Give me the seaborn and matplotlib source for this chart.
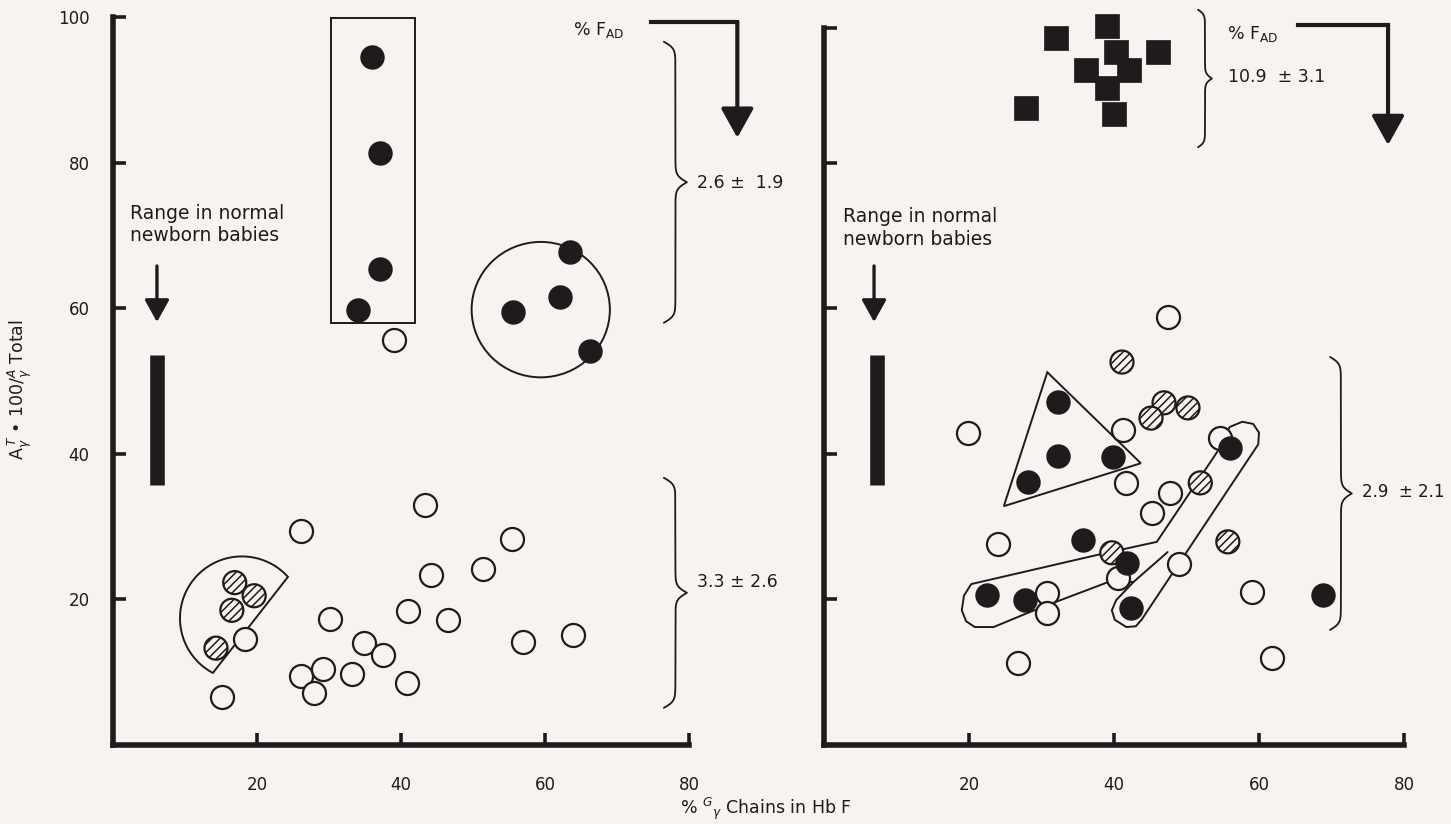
import numpy as np
import pandas as pd
import matplotlib
matplotlib.use("Agg")
import matplotlib.pyplot as plt
from matplotlib.patches import Rectangle, Ellipse, Polygon
import seaborn as sns

INK = "#1f1b1c"
PAPER = "#f7f3f1"

# ---------------- data: left panel ----------------
left_open_x = [39.0, 43.3, 26.1, 55.4, 44.2, 51.4, 30.1, 41.0, 46.5, 34.9,
               37.5, 26.1, 29.2, 27.9, 33.2, 40.8, 56.9, 63.9, 18.3, 15.1]
left_open_y = [55.6, 33.0, 29.4, 28.3, 23.4, 24.2, 17.3, 18.4, 17.2, 14.0,
               12.4, 9.5, 10.4, 7.1, 9.8, 8.5, 14.1, 15.1, 14.6, 6.6]
left_filled_x = [36.0, 37.1, 37.1, 34.0, 63.5, 62.1, 55.6, 66.3]
left_filled_y = [94.5, 81.3, 65.4, 59.8, 67.7, 61.5, 59.5, 54.1]
left_hatched_x = [16.9, 19.6, 16.5, 14.3]
left_hatched_y = [22.3, 20.5, 18.5, 13.3]

# ---------------- data: right panel ----------------
right_open_x = [47.4, 19.9, 41.2, 41.7, 54.6, 47.7, 45.2, 24.0, 49.0, 40.6,
                30.8, 30.8, 59.0, 26.8, 61.8]
right_open_y = [58.8, 42.9, 43.3, 36.0, 42.2, 34.6, 31.9, 27.6, 24.9, 22.9,
                20.9, 18.1, 21.0, 11.3, 12.0]
right_filled_x = [32.3, 32.3, 39.9, 28.1, 56.0, 35.7, 41.8, 22.5, 27.7, 42.3, 68.8]
right_filled_y = [47.1, 39.7, 39.6, 36.1, 40.8, 28.2, 25.0, 20.6, 19.9, 18.8, 20.6]
right_hatched_x = [41.1, 46.9, 45.1, 50.2, 51.9, 39.7, 55.7]
right_hatched_y = [52.6, 47.0, 44.9, 46.3, 36.0, 26.4, 27.9]
right_square_x = [39.0, 32.0, 40.3, 46.1, 36.1, 42.1, 39.0, 27.9, 40.0]
right_square_y = [98.8, 97.1, 95.2, 95.2, 92.7, 92.7, 90.2, 87.5, 86.7]

# range of the ratio in normal newborn babies
normal_range = [35.7, 53.6]

x_ticks = [20, 40, 60, 80]
y_ticks = [20, 40, 60, 80, 100]

fad_left_high = "2.6 \u00b1  1.9"
fad_left_low = "3.3 \u00b1 2.6"
fad_right_high = "10.9  \u00b1 3.1"
fad_right_low = "2.9  \u00b1 2.1"
range_label = "Range in normal\nnewborn babies"
fad_label = "% F$_{\\mathregular{AD}}$"

# ---------------- style ----------------
sns.set_theme(style="white")
plt.rcParams["font.family"] = ["DejaVu Sans"]
plt.rcParams["hatch.color"] = INK
plt.rcParams["hatch.linewidth"] = 1.1
plt.rcParams["text.color"] = INK

fig = plt.figure(figsize=(14.51, 8.24), dpi=100, facecolor=PAPER)
ax_l = fig.add_axes([0.0779, 0.0959, 0.397, 0.8835])
ax_r = fig.add_axes([0.5679, 0.0959, 0.3997, 0.8835])

MS = 275


def draw_points(ax, xs, ys, kind):
    df = pd.DataFrame({"x": xs, "y": ys})
    kws = dict(data=df, x="x", y="y", ax=ax, legend=False, clip_on=False, zorder=4)
    if kind == "open":
        sns.scatterplot(**kws, marker="o", s=MS, color=PAPER, edgecolor=INK, linewidth=1.6)
    elif kind == "filled":
        sns.scatterplot(**kws, marker="o", s=MS, color=INK, edgecolor=INK, linewidth=1.0)
    elif kind == "hatched":
        sns.scatterplot(**kws, marker="o", s=MS, color=PAPER, edgecolor=INK,
                        linewidth=1.6, hatch="////")
    elif kind == "square":
        sns.scatterplot(**kws, marker="s", s=MS, color=INK, edgecolor=INK, linewidth=0.5)


def style_axes(ax, ytop, show_ylabels):
    ax.set_facecolor("none")
    ax.set_xlim(0, 80)
    ax.set_ylim(0, 100)
    for side in ("top", "right"):
        ax.spines[side].set_visible(False)
    for side in ("left", "bottom"):
        sp = ax.spines[side]
        sp.set_linewidth(4.0)
        sp.set_color(INK)
        sp.set_capstyle("projecting")
    ax.spines["left"].set_bounds(0, ytop)
    ax.spines["bottom"].set_bounds(0, 80)
    ax.set_xticks(x_ticks)
    ax.set_xticklabels([str(t) for t in x_ticks])
    if show_ylabels:
        ax.set_yticks(y_ticks)
        ax.set_yticklabels([str(t) for t in y_ticks])
    else:
        ax.set_yticks([20, 40, 60, 80, ytop])
        ax.set_yticklabels([])
    ax.tick_params(axis="both", direction="in", length=9, width=2.6, color=INK,
                   labelcolor=INK, labelsize=12, bottom=True, left=True)
    ax.tick_params(axis="x", pad=22)
    ax.tick_params(axis="y", pad=17)
    ax.set_xlabel("")
    ax.set_ylabel("")


def brace(ax, x, y0, y1, w, beta=2.2):
    # vertical curly brace from y0 to y1, tip pointing right
    h = (y1 - y0) / 2.0
    t = np.linspace(0, h, 300)
    a = 1 / (1 + np.exp(-beta * (t - t[0]))) + 1 / (1 + np.exp(-beta * (t - t[-1])))
    a = a - 0.5
    xs = np.concatenate([x + w * a, x + w * a[::-1]])
    ys = np.concatenate([y0 + t, y0 + h + t])
    ax.plot(xs, ys, color=INK, lw=1.3, clip_on=False, zorder=3)


def elbow_arrow(ax, x0, x1, y0, y1):
    ax.plot([x0, x1], [y0, y0], color=INK, lw=3.0, clip_on=False,
            solid_capstyle="projecting")
    ax.annotate("", xy=(x1, y1), xytext=(x1, y0), annotation_clip=False,
                arrowprops=dict(arrowstyle="-|>,head_length=0.9,head_width=0.5",
                                lw=3.0, color=INK, shrinkA=0, shrinkB=0,
                                mutation_scale=20))


def normal_range_marker(ax, x_arrow, x_bar, text_x, text_y):
    ax.text(text_x, text_y, range_label, fontsize=13.5, ha="left", va="center",
            linespacing=1.25, color=INK)
    ax.annotate("", xy=(x_arrow, 58.1), xytext=(x_arrow, 65.8), annotation_clip=False,
                arrowprops=dict(arrowstyle="-|>,head_length=0.9,head_width=0.5",
                                lw=2.4, color=INK, shrinkA=0, shrinkB=0,
                                mutation_scale=15))
    ax.plot([x_bar, x_bar], normal_range, color=INK, lw=10.5,
            solid_capstyle="butt", zorder=3)


# ---------------- left panel ----------------
style_axes(ax_l, 100, True)

# group outlines
ax_l.add_patch(Rectangle((30.3, 58.0), 11.6, 41.9, fill=False, ec=INK, lw=1.4,
                         clip_on=False, zorder=2))
ax_l.add_patch(Ellipse((59.4, 59.8), 19.2, 18.6, fill=False, ec=INK, lw=1.4,
                       clip_on=False, zorder=2))
ang = np.deg2rad(np.linspace(42, 242, 120))
wedge_pts = np.column_stack([17.9 + 8.6 * np.cos(ang), 17.4 + 8.5 * np.sin(ang)])
ax_l.add_patch(Polygon(wedge_pts, closed=True, fill=False, ec=INK, lw=1.4,
                       clip_on=False, zorder=2))

draw_points(ax_l, left_open_x, left_open_y, "open")
draw_points(ax_l, left_hatched_x, left_hatched_y, "hatched")
draw_points(ax_l, left_filled_x, left_filled_y, "filled")

normal_range_marker(ax_l, 6.1, 6.1, 2.4, 71.5)

ax_l.text(63.9, 98.2, fad_label, fontsize=12.5, ha="left", va="center")
elbow_arrow(ax_l, 74.7, 86.7, 99.3, 83.4)
brace(ax_l, 76.5, 58.0, 96.6, 3.2)
ax_l.text(81.1, 77.2, fad_left_high, fontsize=12.5, ha="left", va="center")
brace(ax_l, 76.5, 5.1, 36.7, 3.2)
ax_l.text(81.1, 22.4, fad_left_low, fontsize=12.5, ha="left", va="center")

# ---------------- right panel ----------------
style_axes(ax_r, 98.5, False)

ax_r.add_patch(Polygon([(30.8, 51.2), (43.7, 38.7), (24.8, 32.8)], closed=True,
                       fill=False, ec=INK, lw=1.4, zorder=2))
lasso = [(20.3, 22.1), (38.1, 26.2), (45.9, 27.9), (54.4, 40.5), (54.9, 42.2),
         (56.0, 43.7), (57.7, 44.4), (59.2, 44.1), (60.0, 42.9), (59.9, 41.3),
         (43.8, 17.2), (43.0, 16.3), (41.7, 16.2), (40.1, 17.2), (39.7, 18.5),
         (40.3, 19.9), (42.7, 22.4), (39.0, 22.3), (32.1, 19.7), (28.0, 18.1),
         (23.4, 16.2), (20.8, 16.2), (19.6, 17.0), (19.0, 18.5), (19.3, 20.5)]
ax_r.add_patch(Polygon(lasso, closed=True, fill=False, ec=INK, lw=1.4, zorder=2,
                       joinstyle="round"))
ax_r.plot([42.7, 47.4], [22.4, 26.5], color=INK, lw=1.4, zorder=2)

draw_points(ax_r, right_open_x, right_open_y, "open")
draw_points(ax_r, right_hatched_x, right_hatched_y, "hatched")
draw_points(ax_r, right_filled_x, right_filled_y, "filled")
draw_points(ax_r, right_square_x, right_square_y, "square")

normal_range_marker(ax_r, 6.9, 7.3, 2.6, 71.0)

brace(ax_r, 51.6, 82.1, 101.0, 1.9, beta=3.0)
ax_r.text(55.6, 97.6, fad_label, fontsize=12.5, ha="left", va="center")
ax_r.text(55.7, 91.8, fad_right_high, fontsize=12.5, ha="left", va="center")
elbow_arrow(ax_r, 65.4, 77.8, 98.9, 82.4)
brace(ax_r, 69.8, 15.8, 53.3, 3.0)
ax_r.text(74.2, 34.8, fad_right_low, fontsize=12, ha="left", va="center")

# seaborn labels the axes with column names; the shared titles are figure text
for ax in (ax_l, ax_r):
    ax.set_xlabel("")
    ax.set_ylabel("")

# ---------------- axis titles ----------------
fig.text(0.014, 0.527, "A$_{\\gamma}^{\\,T}$ \u2022 100/$^{A}_{\\gamma}$ Total",
         rotation=90, ha="center", va="center", fontsize=12.5, color=INK)
fig.text(0.528, 0.018, "% $^{G}$$_{\\gamma}$ Chains in Hb F", ha="center",
         va="center", fontsize=12.5, color=INK)

fig.savefig("out.png", dpi=100, facecolor=PAPER)
